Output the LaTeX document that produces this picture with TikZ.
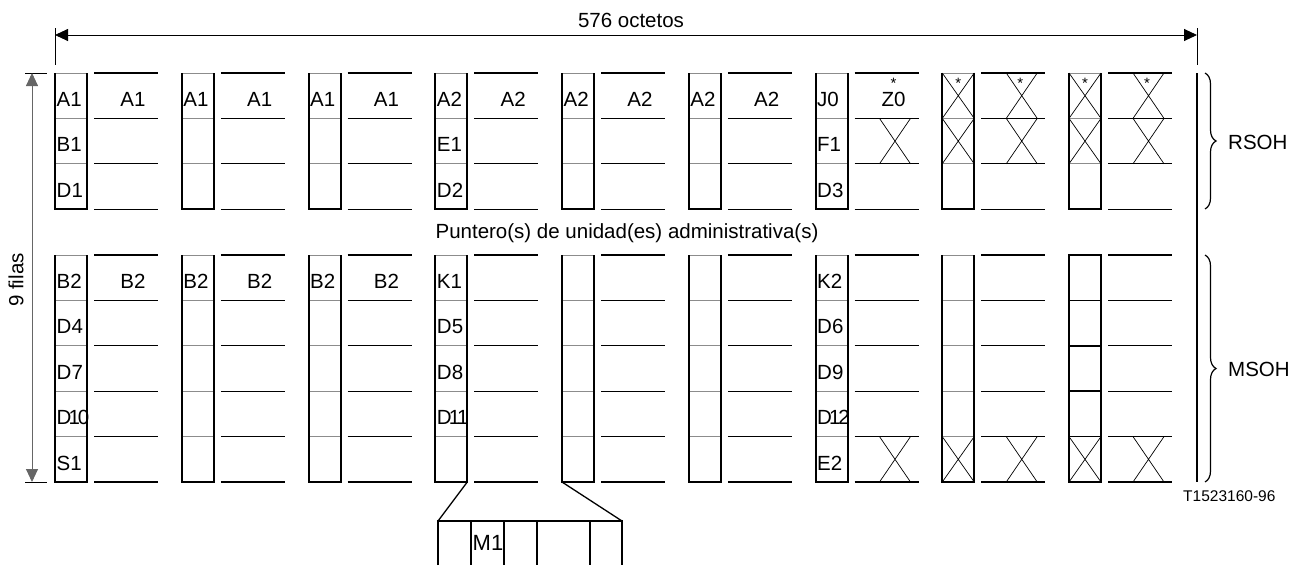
\documentclass[tikz,border=0pt]{standalone}
\usepackage{fontspec}
\setmainfont{Liberation Sans}
\usetikzlibrary{arrows.meta, shapes.misc, decorations.pathreplacing, positioning}

\begin{document}
\begin{tikzpicture}[
    x=1pt, y=-1pt,
    every node/.style={font=\fontsize{20.5}{24}\selectfont, inner sep=0pt},
    so-cell/.style={rectangle, draw=black!45, line width=1pt, outer sep=0pt,
        minimum width=32pt, minimum height=45.4pt, anchor=north west},
    so-part/.style={rectangle, outer sep=0pt,
        minimum height=44pt, anchor=north west},
    so-box/.style={draw=black, line width=2pt},
    so-seg/.style={line width=1.3pt},
    so-xmark/.style={cross out, draw=black, line width=0.7pt, outer sep=0pt,
        minimum width=31pt, minimum height=45.4pt},
    so-star/.style={font=\fontsize{15}{18}\selectfont, anchor=base},
    so-lbl/.style={anchor=base west},
    so-seglbl/.style={anchor=base},
    so-dim/.style={draw=black, line width=0.9pt},
    so-arrow/.style={{Triangle[length=13pt, width=12pt]}-{Triangle[length=13pt, width=12pt]}, line width=0.9pt},
    so-brace/.style={decorate, decoration={brace, amplitude=11pt}, line width=1.2pt},
]
    \useasboundingbox (0,0) rectangle (1304,565);

    % ---- CELLS: one column of octets every 126.75 ----
    \foreach \c in {0,...,8} {
        \pgfmathsetmacro{\xc}{55+126.75*\c}
        \foreach \r in {0,1,2}
            \node[so-cell] (t-\c-\r) at (\xc,{73+45.4*\r}) {};
        \foreach \r in {0,...,4}
            \node[so-cell] (m-\c-\r) at (\xc,{255+45.4*\r}) {};
    }

    % ---- segments between the columns ----
    \foreach \c in {0,...,8} {
        \pgfmathsetmacro{\xa}{55+126.75*\c+39}
        \pgfmathsetmacro{\xb}{\xa+64}
        \foreach \y in {73,118.4,163.8,209.2,255,300.4,345.8,391.2,436.6,482}
            \draw[so-seg] (\xa,\y) -- (\xb,\y);
    }

    % ---- column outlines ----
    \foreach \c in {0,...,8} {
        \draw[so-box] (t-\c-0.north west) -- (t-\c-2.south west) -- (t-\c-2.south east) -- (t-\c-0.north east);
    }
    \foreach \c in {0,...,7} {
        \draw[so-box] (m-\c-0.north west) -- (m-\c-4.south west) -- (m-\c-4.south east) -- (m-\c-0.north east);
    }
    \draw[so-box] (m-8-0.north west) rectangle (m-8-4.south east);
    \foreach \r in {1,...,4}
        \draw[line width=1.5pt] (m-8-\r.north west) -- (m-8-\r.north east);

    % ---- byte labels ----
    \foreach \c/\r/\t in {0/0/A1, 0/1/B1, 0/2/D1, 1/0/A1, 2/0/A1,
                          3/0/A2, 3/1/E1, 3/2/D2, 4/0/A2, 5/0/A2,
                          6/0/J0, 6/1/F1, 6/2/D3}
        \node[so-lbl] (tl-\c-\r) at ([shift={(1.5,-12)}]t-\c-\r.south west) {\t};
    \foreach \c/\r/\t in {0/0/B2, 0/1/D4, 0/2/D7, 0/3/{D\kern-3pt 1\kern-2pt 0}, 0/4/S1,
                          1/0/B2, 2/0/B2,
                          3/0/K1, 3/1/D5, 3/2/D8, 3/3/{D\kern-3pt 1\kern-3pt 1},
                          6/0/K2, 6/1/D6, 6/2/D9, 6/3/{D\kern-3pt 1\kern-2pt 2}, 6/4/E2}
        \node[so-lbl] (ml-\c-\r) at ([shift={(1.5,-12)}]m-\c-\r.south west) {\t};

    \foreach \c/\t in {0/A1, 1/A1, 2/A1, 3/A2, 4/A2, 5/A2, 6/Z0}
        \node[so-seglbl] (ts-\c) at ([shift={(78,-12)}]t-\c-0.south west) {\t};
    \foreach \c in {0,1,2}
        \node[so-seglbl] (ms-\c) at ([shift={(78,-12)}]m-\c-0.south west) {B2};

    % ---- crossed-out octets and stars ----
    \foreach \c/\r in {6/1, 7/0, 7/1, 8/0, 8/1}
        \node[so-xmark] (tx-\c-\r) at ([shift={(63.5,0)}]t-\c-\r.center) {};
    \foreach \c/\r in {7/0, 7/1, 8/0, 8/1}
        \node[so-xmark, minimum width=32pt] (tbx-\c-\r) at (t-\c-\r) {};
    \foreach \c in {6,7,8}
        \node[so-xmark] (mx-\c) at ([shift={(63.5,0)}]m-\c-4.center) {};
    \foreach \c in {7,8}
        \node[so-xmark, minimum width=32pt] (mbx-\c) at (m-\c-4) {};

    \foreach \c/\dx in {6/78, 7/16, 7/78, 8/16, 8/78}
        \node[so-star] (st-\c-\dx) at ([shift={(\dx,-30.4)}]t-\c-0.south west) {*};

    \node[anchor=base] (ptr) at (627,238) {Puntero(s) de unidad(es) administrativa(s)};

    % ---- dimensions ----
    \coordinate (oct-l) at (55,35);
    \coordinate (oct-r) at (1197,35);
    \draw[so-dim] (55,28) -- (55,65);
    \draw[so-dim] (1197,28) -- (1197,65);
    \draw[so-arrow] (oct-l) -- (oct-r);
    \node[anchor=base] (oct) at (631,27) {576 octetos};

    \coordinate (fil-t) at (32,73);
    \coordinate (fil-b) at (32,482);
    \draw[so-dim] (25,73) -- (47,73);
    \draw[so-dim] (25,482) -- (47,482);
    \draw[so-arrow, draw=black!60] (fil-t) -- (fil-b);
    \node[rotate=90] (filas) at (16,280) {9 filas};

    \draw[line width=2pt] (1197,73) -- (1197,482);

    % ---- RSOH / MSOH ----
    \draw[so-brace] (1205,73) -- (1205,209);
    \draw[so-brace] (1205,255) -- (1205,482);
    \node[anchor=west] (rsoh) at (1228,142) {RSOH};
    \node[anchor=west] (msoh) at (1228,369) {MSOH};

    \node[anchor=base west, font=\fontsize{15.5}{18}\selectfont] (ref) at (1183,501.5) {T1523160-96};

    % ---- expanded column ----
    \node[so-part, minimum width=33pt] (e-0) at (438,521) {};
    \node[so-part, minimum width=33pt, right=0pt of e-0] (e-1) {};
    \node[so-part, minimum width=33pt, right=0pt of e-1] (e-2) {};
    \node[so-part, minimum width=53pt, right=0pt of e-2] (e-3) {};
    \node[so-part, minimum width=32pt, right=0pt of e-3] (e-4) {};
    \draw[so-seg] (e-0.south west) -- (e-0.north west) -- (e-4.north east) -- (e-4.south east);
    \foreach \i in {1,...,4}
        \draw[so-seg] (e-\i.north west) -- (e-\i.south west);
    \node[so-lbl, font=\fontsize{22}{26}\selectfont] (m1) at ([shift={(1.5,-15)}]e-1.south west) {M1};

    \draw[so-seg] (m-3-4.south east) -- (e-0.north west);
    \draw[so-seg] (m-4-4.south west) -- (e-4.north east);

\end{tikzpicture}
\end{document}
